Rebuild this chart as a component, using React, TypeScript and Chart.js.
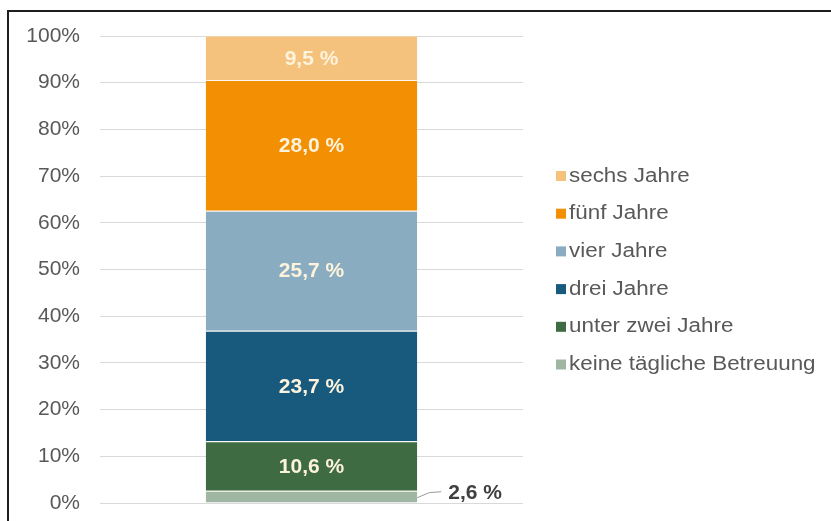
import React, { useEffect, useRef } from "react";
import { Chart, registerables } from "chart.js";

Chart.register(...registerables);

const categories = ["Anteil"];
const seriesNames = [
  "keine tägliche Betreuung",
  "unter zwei Jahre",
  "drei Jahre",
  "vier Jahre",
  "fünf Jahre",
  "sechs Jahre",
];
const seriesValues = [2.6, 10.6, 23.7, 25.7, 28.0, 9.5];
const seriesColors = ["#9fb6a2", "#3e6b42", "#175a7e", "#89acc1", "#f28f02", "#f4c27c"];
const yTicks = [0, 10, 20, 30, 40, 50, 60, 70, 80, 90, 100];

const FONT = "'Liberation Sans', Arial, sans-serif";

const fmt = (v: number) => v.toFixed(1).replace(".", ",") + " %";

const overlayPlugin = {
  id: "overlay",
  afterDatasetsDraw(chart: any) {
    const ctx = chart.ctx as CanvasRenderingContext2D;
    ctx.save();
    chart.data.datasets.forEach((ds: any, i: number) => {
      const meta = chart.getDatasetMeta(i);
      const el: any = meta.data[0];
      if (!el) return;
      const v = ds.data[0] as number;
      const yc = (el.y + el.base) / 2;
      ctx.font = `bold 21px ${FONT}`;
      ctx.textBaseline = "middle";
      if (v < 5) {
        const rx = el.x + el.width / 2;
        ctx.strokeStyle = "#9a9a9a";
        ctx.lineWidth = 1;
        ctx.beginPath();
        ctx.moveTo(rx, yc + 1);
        ctx.lineTo(rx + 12, yc - 4);
        ctx.lineTo(rx + 24, yc - 5);
        ctx.stroke();
        ctx.fillStyle = "#404040";
        ctx.textAlign = "left";
        ctx.fillText(fmt(v), rx + 31, yc - 3);
      } else {
        ctx.fillStyle = "#fdf3dc";
        ctx.textAlign = "center";
        ctx.fillText(fmt(v), el.x, yc + 1);
      }
    });
    ctx.restore();
  },
  afterDraw(chart: any) {
    const ctx = chart.ctx as CanvasRenderingContext2D;
    ctx.save();
    const x0 = 556;
    const yStart = 176;
    const step = 37.7;
    ctx.font = `20px ${FONT}`;
    ctx.textBaseline = "middle";
    ctx.textAlign = "left";
    for (let k = 0; k < seriesNames.length; k++) {
      const idx = seriesNames.length - 1 - k;
      const y = yStart + k * step;
      ctx.fillStyle = seriesColors[idx];
      ctx.fillRect(x0, y - 5, 10, 10);
      ctx.fillStyle = "#595959";
      ctx.save();
      ctx.translate(x0 + 13, y);
      ctx.scale(1.12, 1);
      ctx.fillText(seriesNames[idx], 0, 0);
      ctx.restore();
    }
    ctx.fillStyle = "#1e1e1e";
    ctx.fillRect(7, 10, 831 - 7, 2);
    ctx.fillRect(7, 10, 2, 521 - 10);
    ctx.restore();
  },
};

export default function App() {
  const ref = useRef<HTMLCanvasElement | null>(null);
  useEffect(() => {
    if (!ref.current) return;
    const chart = new Chart(ref.current, {
      type: "bar",
      data: {
        labels: categories,
        datasets: seriesNames.map((n, i) => ({
          label: n,
          data: [seriesValues[i]],
          backgroundColor: seriesColors[i],
          borderColor: "rgba(255,250,235,0.9)",
          borderWidth: { top: 1, bottom: 0, left: 0, right: 0 },
          borderSkipped: false,
          barPercentage: 1,
          categoryPercentage: 0.5,
        })),
      },
      options: {
        animation: false,
        responsive: false,
        maintainAspectRatio: false,
        layout: { padding: { left: 0, right: 308, top: 36, bottom: 18 } },
        plugins: { legend: { display: false }, tooltip: { enabled: false } },
        scales: {
          x: { stacked: true, display: false },
          y: {
            stacked: true,
            min: 0,
            max: 100,
            afterFit: (s: any) => {
              s.width = 100;
            },
            afterBuildTicks: (s: any) => {
              s.ticks = yTicks.map((v) => ({ value: v }));
            },
            border: { display: false },
            grid: {
              color: "#d9d9d9",
              drawTicks: true,
              tickLength: 20,
              tickColor: "rgba(0,0,0,0)",
              lineWidth: 1,
            },
            ticks: {
              padding: 0,
              color: "#595959",
              font: { family: FONT, size: 21 },
              callback: (v: any) => v + "%",
            },
          },
        },
      },
      plugins: [overlayPlugin],
    });
    return () => chart.destroy();
  }, []);
  return (
    <div style={{ position: "fixed", left: 0, top: 0, width: 831, height: 521, background: "#fff" }}>
      <canvas ref={ref} width={831} height={521} style={{ display: "block" }} />
    </div>
  );
}
